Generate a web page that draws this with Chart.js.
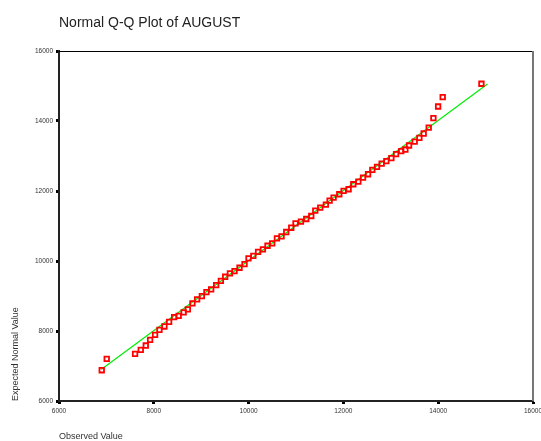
<!DOCTYPE html>
<html lang="en">
<head>
<meta charset="UTF-8">
<title>Normal Q-Q Plot of AUGUST</title>
<script src="https://cdn.jsdelivr.net/npm/chart.js"></script>
<style>
    body {
        margin: 0;
        background: #fff;
    }
    canvas {
        display: block;
    }
</style>
</head>
<body>
<canvas id="qqChart" width="541" height="441"></canvas>
<script>
    // observed August values and their expected normal quantiles
    const observedValues = [
        6902, 7007, 7605, 7725, 7831, 7922, 8027, 8119, 8224, 8323,
        8429, 8525, 8630, 8718, 8815, 8914, 9014, 9111, 9210, 9316,
        9415, 9506, 9606, 9703, 9808, 9914, 9998, 10100, 10200, 10302,
        10399, 10498, 10598, 10695, 10794, 10900, 10990, 11104, 11216, 11322,
        11407, 11512, 11630, 11709, 11793, 11913, 12004, 12110, 12209, 12315,
        12414, 12520, 12610, 12710, 12807, 12906, 13012, 13111, 13220, 13307,
        13385, 13504, 13603, 13694, 13800, 13899, 13998, 14095, 14912
    ];
    const expectedValues = [
        6879, 7202, 7345, 7460, 7585, 7746, 7889, 8032, 8129, 8261,
        8396, 8430, 8530, 8616, 8788, 8902, 8997, 9111, 9188, 9311,
        9434, 9549, 9645, 9712, 9807, 9912, 10075, 10145, 10260, 10333,
        10436, 10505, 10648, 10705, 10828, 10951, 11077, 11123, 11200, 11286,
        11438, 11524, 11610, 11724, 11810, 11907, 12002, 12050, 12193, 12268,
        12382, 12479, 12603, 12688, 12783, 12852, 12938, 13052, 13140, 13185,
        13300, 13413, 13519, 13642, 13813, 14082, 14414, 14683, 15064
    ];

    // reference line (expected = observed)
    const fitLineX = [6890, 15040];
    const fitLineY = [6900, 15055];

    const axisTicks = [6000, 8000, 10000, 12000, 14000, 16000];

    const framePlugin = {
        id: 'frame',
        afterDraw(chart) {
            const { ctx, chartArea: a } = chart;
            ctx.save();
            ctx.strokeStyle = '#000';
            ctx.lineWidth = 1;
            ctx.beginPath();
            ctx.moveTo(a.left, a.top + 0.5);
            ctx.lineTo(a.right, a.top + 0.5);
            ctx.stroke();
            ctx.strokeStyle = '#777';
            ctx.lineWidth = 2;
            ctx.beginPath();
            ctx.moveTo(a.right, a.top);
            ctx.lineTo(a.right, a.bottom);
            ctx.stroke();
            ctx.font = '14px "Liberation Sans", Arial, sans-serif';
            ctx.fillStyle = '#222';
            ctx.textBaseline = 'alphabetic';
            ctx.fillText('Normal Q-Q Plot of AUGUST', a.left, 27);
            ctx.restore();
        }
    };

    const tickFont = { family: '"Liberation Sans", Arial, sans-serif', size: 6.5 };
    const titleFont = { family: '"Liberation Sans", Arial, sans-serif', size: 9, lineHeight: 1 };

    function axis(fitSize, title, titlePad) {
        return {
            type: 'linear',
            min: 6000,
            max: 16000,
            afterBuildTicks: s => { s.ticks = axisTicks.map(v => ({ value: v })); },
            afterFit: s => {
                fitSize(s);
                s.paddingLeft = 0;
                s.paddingRight = 0;
                s.paddingTop = 0;
                s.paddingBottom = 0;
            },
            border: { display: true, color: '#222', width: 2 },
            grid: {
                drawOnChartArea: false,
                tickLength: 3,
                tickWidth: 3,
                tickColor: '#000'
            },
            ticks: {
                font: tickFont,
                color: '#333',
                padding: 3,
                maxRotation: 0,
                callback: v => String(v)
            },
            title: {
                display: true,
                text: title,
                align: 'start',
                font: titleFont,
                color: '#333',
                padding: titlePad
            }
        };
    }

    const ctx = document.getElementById('qqChart').getContext('2d');

    new Chart(ctx, {
        type: 'scatter',
        data: {
            datasets: [
                {
                    label: 'Observed',
                    data: observedValues.map((v, i) => ({ x: v, y: expectedValues[i] })),
                    pointStyle: 'rect',
                    pointRadius: 3.2,
                    borderWidth: 1.8,
                    borderColor: '#ff0000',
                    backgroundColor: 'rgba(0,0,0,0)'
                },
                {
                    label: 'Line',
                    data: fitLineX.map((v, i) => ({ x: v, y: fitLineY[i] })),
                    showLine: true,
                    pointRadius: 0,
                    borderWidth: 1.2,
                    borderColor: '#00ee00'
                }
            ]
        },
        options: {
            responsive: false,
            animation: false,
            layout: {
                autoPadding: false,
                padding: { top: 51, right: 8, left: 0, bottom: 0 }
            },
            plugins: {
                legend: { display: false },
                tooltip: { enabled: false },
                title: { display: false }
            },
            scales: {
                x: axis(s => { s.height = 40; }, 'Observed Value', { top: 0, bottom: 0 }),
                y: axis(s => { s.width = 59; }, 'Expected Normal Value', { top: 11, bottom: 0 })
            }
        },
        plugins: [framePlugin]
    });
</script>
</body>
</html>
